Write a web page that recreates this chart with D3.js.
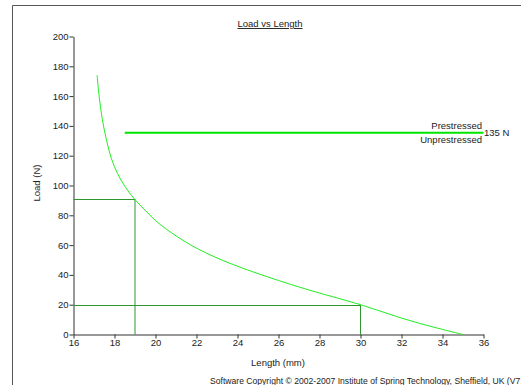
<!DOCTYPE html>
<html>
<head>
<meta charset="utf-8">
<script src="https://cdn.jsdelivr.net/npm/d3@7"></script>
<style>
  body { margin: 0; background: #fff; }
  svg { display: block; font-family: "Liberation Sans", Arial, sans-serif; }
  .axis text { font-size: 9.5px; fill: #222; }
  .axis path, .axis line { stroke: #333; }
</style>
</head>
<body>
<svg id="chart" width="521" height="385"></svg>
<script>
// load curve
const lengthMm = [17.15, 17.25, 17.4, 17.6, 17.85, 18.15, 18.5, 19, 19.5, 20, 20.5, 21, 21.7, 22.5, 23.3, 24.2, 25.4, 26.6, 28, 29, 30, 31, 32, 33, 34, 35];
const loadN = [174, 160, 145, 131, 118, 108, 99.5, 90.5, 83.3, 76.5, 71, 66.2, 60.2, 54.5, 49.6, 44.8, 39, 33.6, 27.8, 24, 20, 15.5, 11, 7, 3.4, 0];

// working points marked on the chart
const markLength = [19, 30];
const markLoad = [91, 20];

// prestressed level
const prestressLoad = 135;
const prestressFrom = 18.5;

const xTicks = [16, 18, 20, 22, 24, 26, 28, 30, 32, 34, 36];
const yTicks = [0, 20, 40, 60, 80, 100, 120, 140, 160, 180, 200];

const svg = d3.select('#chart');

// outer frame
svg.append('path')
  .attr('d', 'M12.5,385 V5.5 H521')
  .attr('fill', 'none')
  .attr('stroke', '#555')
  .attr('stroke-width', 1);

const x = d3.scaleLinear().domain([16, 36]).range([73.5, 483.5]);
const y = d3.scaleLinear().domain([0, 200]).range([334.5, 36.5]);

// axes
svg.append('g')
  .attr('class', 'axis')
  .attr('transform', 'translate(0,334.5)')
  .call(d3.axisBottom(x).tickValues(xTicks).tickSize(4).tickSizeOuter(0).tickPadding(1));

svg.append('g')
  .attr('class', 'axis')
  .attr('transform', 'translate(73.5,0)')
  .call(d3.axisLeft(y).tickValues(yTicks).tickSize(4).tickSizeOuter(0).tickPadding(1));

// marker lines
const markColor = '#2f952f';
markLength.forEach((len, i) => {
  svg.append('line')
    .attr('x1', x(16)).attr('x2', x(len))
    .attr('y1', Math.round(y(markLoad[i])) + 0.5).attr('y2', Math.round(y(markLoad[i])) + 0.5)
    .attr('stroke', markColor).attr('stroke-width', 1);
  svg.append('line')
    .attr('x1', x(len)).attr('x2', x(len))
    .attr('y1', y(markLoad[i])).attr('y2', y(0))
    .attr('stroke', markColor).attr('stroke-width', 1);
});

// load curve
const pts = lengthMm.map((d, i) => [d, loadN[i]]);
svg.append('path')
  .datum(pts)
  .attr('fill', 'none')
  .attr('stroke', '#22ee22')
  .attr('stroke-width', 1)
  .attr('d', d3.line().x(d => x(d[0])).y(d => y(d[1])).curve(d3.curveCatmullRom.alpha(0.5)));

// prestressed line
svg.append('line')
  .attr('x1', x(prestressFrom)).attr('x2', x(36))
  .attr('y1', y(prestressLoad) - 0.5).attr('y2', y(prestressLoad) - 0.5)
  .attr('stroke', '#00e600')
  .attr('stroke-width', 2);

const txt = (t, px, py, anchor, size) => svg.append('text')
  .attr('x', px).attr('y', py)
  .attr('text-anchor', anchor || 'start')
  .attr('font-size', size || 9.5)
  .attr('fill', '#222')
  .text(t);

txt('Prestressed', 482, 128.5, 'end');
txt('Unprestressed', 482, 142.5, 'end');
txt(prestressLoad + ' N', 484, 135.5, 'start');

// title
txt('Load vs Length', 270, 27, 'middle').attr('text-decoration', 'underline');

// axis titles
txt('Length (mm)', 278, 366, 'middle');
svg.append('text')
  .attr('transform', 'translate(40,183) rotate(-90)')
  .attr('text-anchor', 'middle')
  .attr('font-size', 9.5)
  .attr('fill', '#222')
  .text('Load (N)');

// footer runs off the right edge, as in the original
txt('Software Copyright \u00a9 2002-2007 Institute of Spring Technology, Sheffield, UK (V7.43)', 210, 384, 'start', 8.6);
</script>
</body>
</html>
